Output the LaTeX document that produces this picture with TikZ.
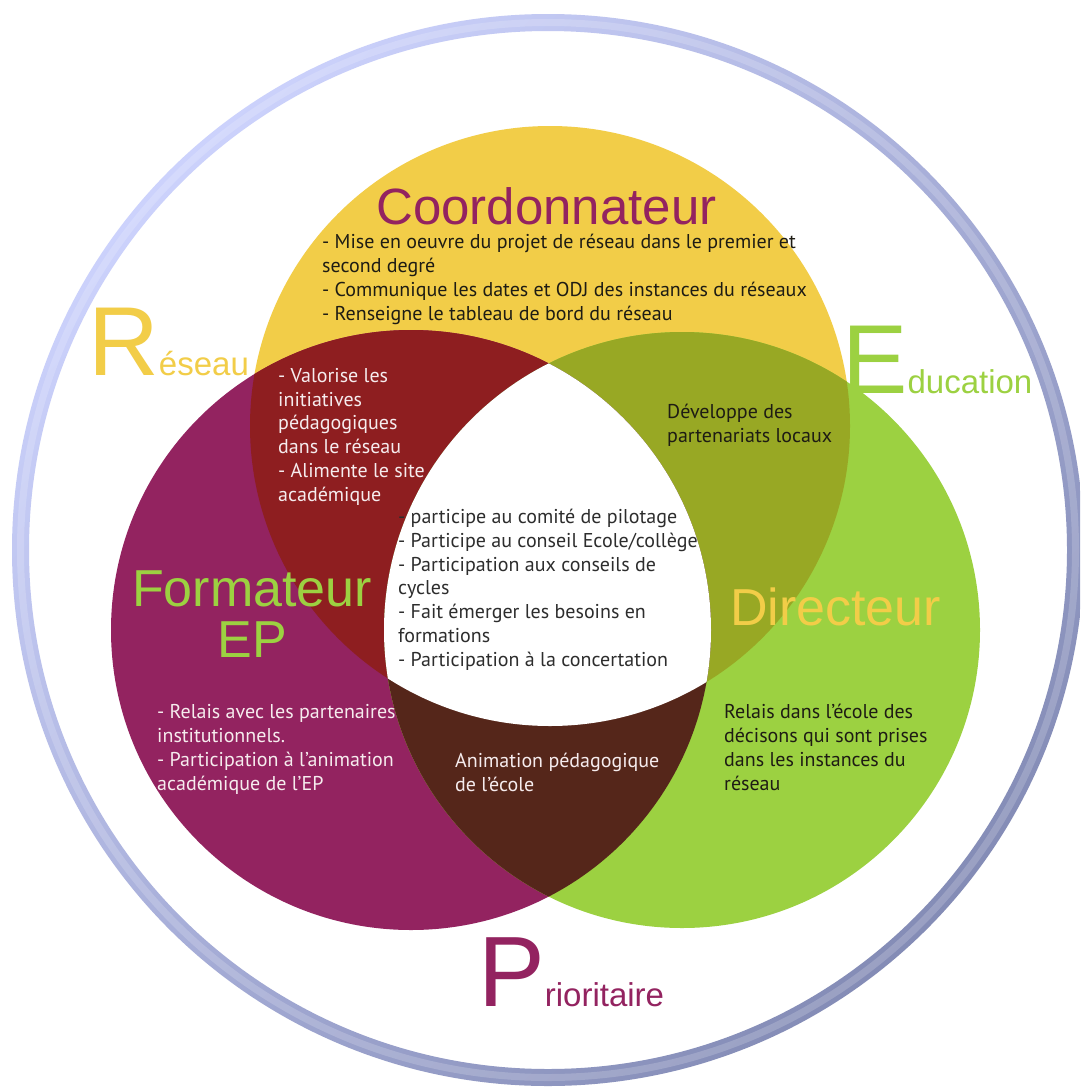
\documentclass[tikz,border=0pt]{standalone}
\usepackage{fontspec}
\setmainfont{PT Sans}
\newfontfamily\headfont{Liberation Sans}
\definecolor{cyellow}{RGB}{242,205,72}
\definecolor{cpurple}{RGB}{147,35,96}
\definecolor{cgreen}{RGB}{156,209,65}
\definecolor{cyp}{RGB}{142,30,32}
\definecolor{cyg}{RGB}{152,168,36}
\definecolor{cpg}{RGB}{85,38,26}
\definecolor{ringlight}{RGB}{204,210,252}
\definecolor{ringdark}{RGB}{132,140,182}
\definecolor{darktext}{RGB}{30,28,20}
\definecolor{centertext}{RGB}{45,45,45}
\definecolor{lighttext}{RGB}{246,236,238}
% multi-line texts are placed by the baseline of their last line
\tikzset{
  body/.style={anchor=base west, align=left, inner sep=0pt,
    font=\fontsize{20}{23.7}\selectfont},
  big/.style={inner sep=0pt, font=\headfont\fontsize{52}{51}\selectfont},
  initial/.style={anchor=base west, inner sep=0pt, font=\headfont},
}
\begin{document}
\begin{tikzpicture}[x=1pt,y=-1pt]
\useasboundingbox (0,0) rectangle (1080,1087);
\clip (0,0) rectangle (1080,1087);
\fill[white] (0,0) rectangle (1080,1087);

% frame ring, with a soft highlight along its middle
\coordinate (O) at (548,550);
\shade[even odd rule, top color=ringlight, bottom color=ringdark, shading angle=45]
  (O) circle[radius=536pt] (O) circle[radius=519pt];
\draw[white, opacity=0.18, line width=7pt] (O) circle[radius=527.5pt];

% the three circles
\coordinate (Y) at (550,426);
\coordinate (P) at (411,630);
\coordinate (G) at (682,630);
\fill[cyellow] (Y) circle[radius=300pt];
\fill[cpurple] (P) circle[radius=300pt];
\fill[cgreen]  (G) circle[radius=298pt];
\begin{scope}
  \clip (Y) circle[radius=300pt];
  \fill[cyp] (P) circle[radius=300pt];
  \fill[cyg] (G) circle[radius=298pt];
\end{scope}
\begin{scope}
  \clip (P) circle[radius=300pt];
  \fill[cpg] (G) circle[radius=298pt];
  \clip (G) circle[radius=298pt];
  \fill[white] (Y) circle[radius=300pt];
\end{scope}

% outer words
\node[initial, text=cyellow] (reseau) at (88,375)
  {{\fontsize{98}{98}\selectfont R}{\fontsize{33}{33}\selectfont éseau}};
\node[initial, text=cgreen] (education) at (842,393)
  {{\fontsize{98}{98}\selectfont E}{\fontsize{33}{33}\selectfont ducation}};
\node[initial, text=cpurple] (prioritaire) at (478,1006)
  {{\fontsize{100}{100}\selectfont P}{\fontsize{33}{33}\selectfont rioritaire}};

% circle titles
\node[big, anchor=base west, text=cpurple, font=\headfont\fontsize{51}{51}\selectfont]
  (coord) at (376,224) {Coordonnateur};
\node[big, anchor=base, align=center, text=cgreen] (form) at (252,657) {Formateur\\EP};
\node[big, anchor=base west, text=cyellow] (dir) at (730,625) {Directeur};

% texts of the regions
\node[body, text=darktext] (tcoord) at (322,320)
  {- Mise en oeuvre du projet de réseau dans le premier et\\
   second degré\\
   - Communique les dates et ODJ des instances du réseaux\\
   - Renseigne le tableau de bord du réseau};
\node[body, text=lighttext] (tcp) at (278,501)
  {- Valorise les\\ initiatives\\ pédagogiques\\ dans le réseau\\
   - Alimente le site\\ académique};
\node[body, text=darktext] (tcg) at (667,442)
  {Développe des\\ partenariats locaux};
\node[body, text=centertext] (tall) at (398,666)
  {- participe au comité de pilotage\\
   - Participe au conseil Ecole/collège\\
   - Participation aux conseils de\\
   cycles\\
   - Fait émerger les besoins en\\
   formations\\
   - Participation à la concertation};
\node[body, text=lighttext] (tform) at (157,790)
  {- Relais avec les partenaires\\ institutionnels.\\
   - Participation à l’animation\\ académique de l’EP};
\node[body, text=lighttext] (tpg) at (455,791)
  {Animation pédagogique\\ de l’école};
\node[body, text=darktext] (tdir) at (724,790)
  {Relais dans l’école des\\ décisons qui sont prises\\
   dans les instances du\\ réseau};
\end{tikzpicture}
\end{document}
